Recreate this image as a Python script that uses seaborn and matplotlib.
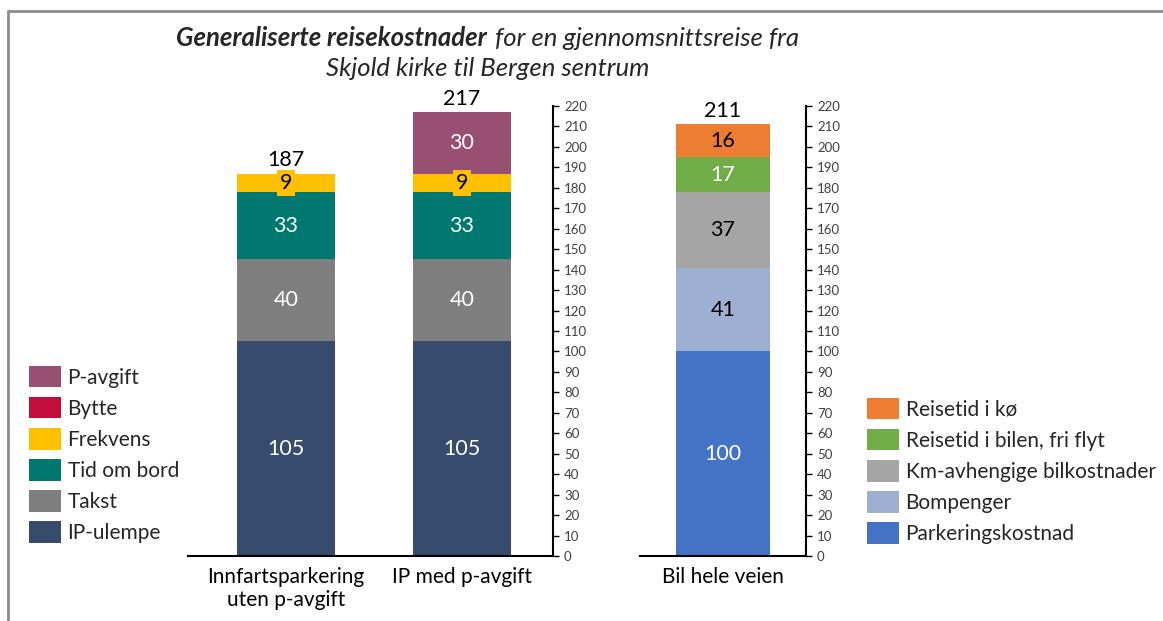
import numpy as np
import matplotlib
matplotlib.use("Agg")
import matplotlib.pyplot as plt
from matplotlib.patches import Patch
from matplotlib.lines import Line2D
import seaborn as sns

# data
left_cats = ["Innfartsparkering\nuten p-avgift", "IP med p-avgift"]
left_names = ["IP-ulempe", "Takst", "Tid om bord", "Frekvens", "Bytte", "P-avgift"]
ip_ulempe = [105, 105]
takst = [40, 40]
tid_om_bord = [33, 33]
frekvens = [9, 9]
bytte = [0, 0]
p_avgift = [0, 30]
left_colors = ["#374C6C", "#7F7F7F", "#007870", "#FFC000", "#C20D3D", "#975072"]
left_txt = ["white", "white", "white", "black", "white", "white"]

right_cats = ["Bil hele veien"]
right_names = ["Parkeringskostnad", "Bompenger", "Km-avhengige bilkostnader",
               "Reisetid i bilen, fri flyt", "Reisetid i kø"]
parkering = [100]
bompenger = [41]
km_kost = [37]
fri_flyt = [17]
ko = [16]
right_colors = ["#4472C4", "#9DB0D1", "#A5A5A5", "#70AD47", "#ED7D31"]
right_txt = ["white", "black", "black", "white", "black"]

sns.set_style("white")
plt.rcParams['font.family'] = ['Lato', 'DejaVu Sans']

W, H = 1163, 621
fig = plt.figure(figsize=(W / 100, H / 100), dpi=100)
ax1 = fig.add_axes([188 / W, 1 - 556 / H, (553 - 188) / W, 450 / H])
ax2 = fig.add_axes([640 / W, 1 - 556 / H, (806 - 640) / W, 450 / H])


def stacked(ax, cats, series, colors, txtcols, width):
    tops = np.cumsum(series, axis=0)
    # draw from the top down so lower segments overlay
    for i in range(len(series) - 1, -1, -1):
        sns.barplot(x=cats, y=tops[i], color=colors[i], width=width,
                    errorbar=None, linewidth=0, saturation=1, ax=ax)
    for j in range(len(cats)):
        for i in range(len(series)):
            v = series[i][j]
            if v <= 0:
                continue
            mid = tops[i][j] - v / 2
            kw = {}
            if colors[i] == "#FFC000":
                kw["bbox"] = dict(facecolor="#FFC000", edgecolor="none", pad=2)
            ax.text(j, mid, str(v), ha="center", va="center", fontsize=15.5,
                    color=txtcols[i], **kw)
        ax.text(j, tops[-1][j] + 6.5, str(tops[-1][j]), ha="center", va="center",
                fontsize=15.5, color="black")


stacked(ax1, left_cats, [ip_ulempe, takst, tid_om_bord, frekvens, bytte, p_avgift],
        left_colors, left_txt, 0.56)
stacked(ax2, right_cats, [parkering, bompenger, km_kost, fri_flyt, ko],
        right_colors, right_txt, 0.53)

ax1.set_xlim(-0.557, 1.517)
ax2.set_xlim(-0.472, 0.472)
for ax in (ax1, ax2):
    ax.set_ylim(0, 220)
    ax.set_yticks(range(0, 221, 10))
    ax.yaxis.tick_right()
    ax.spines["left"].set_visible(False)
    ax.spines["top"].set_visible(False)
    ax.spines["right"].set_color("black")
    ax.spines["bottom"].set_color("black")
    ax.spines["right"].set_linewidth(1.5)
    ax.spines["bottom"].set_linewidth(1.5)
    ax.tick_params(axis="y", direction="out", length=4, width=1, color="black",
                   labelsize=9.5, labelcolor="#404040", pad=4, right=True, left=False)
    ax.tick_params(axis="x", length=0, labelsize=15, pad=8, labelcolor="black")
    ax.set_xlabel("")
    ax.set_ylabel("")

# legends
leg_kw = dict(loc="upper left", frameon=False, fontsize=15, handlelength=1.55,
              handleheight=1.2, labelspacing=0.45, handletextpad=0.3,
              borderpad=0, borderaxespad=0)
lh = [Patch(facecolor=c, edgecolor="none") for c in left_colors]
fig.legend(lh[::-1], left_names[::-1], bbox_to_anchor=(29 / W, 1 - 366 / H), **leg_kw)
rh = [Patch(facecolor=c, edgecolor="none") for c in right_colors]
fig.legend(rh[::-1], right_names[::-1], bbox_to_anchor=(867 / W, 1 - 398 / H), **leg_kw)

# title
fig.text(487 / W, 1 - 38 / H, "Generaliserte reisekostnader", ha="right",
         va="center", fontsize=18.5, fontweight="bold", fontstyle="italic")
fig.text(495 / W, 1 - 38 / H, "for en gjennomsnittsreise fra", ha="left",
         va="center", fontsize=18.5, fontstyle="italic")
fig.text(488 / W, 1 - 68 / H, "Skjold kirke til Bergen sentrum", ha="center",
         va="center", fontsize=18.5, fontstyle="italic")

# outer frame
fig.add_artist(Line2D([8 / W, 1], [1 - 11 / H, 1 - 11 / H], color="#8C8C8C",
                      lw=2, transform=fig.transFigure))
fig.add_artist(Line2D([8 / W, 8 / W], [0, 1 - 11 / H], color="#8C8C8C",
                      lw=2, transform=fig.transFigure))

fig.savefig("out.png", dpi=100)
